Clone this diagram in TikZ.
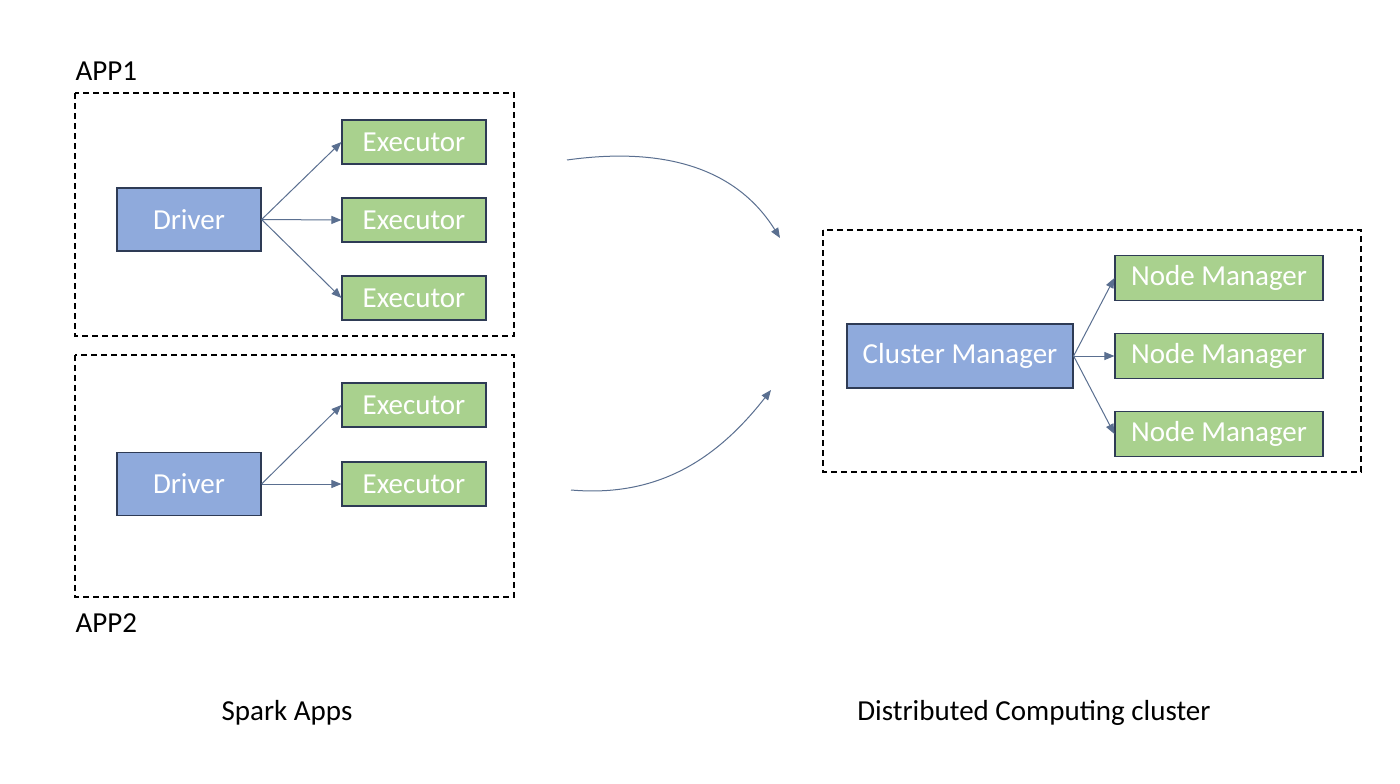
\documentclass[tikz,border=0pt]{standalone}
\usepackage{fontspec}
\setmainfont{Carlito}
\usetikzlibrary{arrows.meta}
\definecolor{drvblue}{HTML}{8FAADC}
\definecolor{exgreen}{HTML}{A9D18E}
\definecolor{boxline}{HTML}{2E3B55}
\definecolor{arrline}{HTML}{5A6F90}
\tikzset{
  txt/.style={font=\fontsize{29}{35}\selectfont},
  master/.style={txt,draw=boxline,line width=1.2pt,fill=drvblue,text=white,minimum width=144pt,minimum height=63pt,inner sep=0pt},
  worker/.style={txt,draw=boxline,line width=1.2pt,fill=exgreen,text=white,minimum width=144pt,minimum height=44pt,inner sep=0pt},
  appbox/.style={draw=black,line width=1.3pt,dash pattern=on 6pt off 4pt},
  link/.style={draw=arrline,line width=1pt,-{Triangle[length=10pt,width=8pt]}}
}
\begin{document}
\begin{tikzpicture}[x=1pt,y=-1pt]
	  \useasboundingbox[fill=white] (0,0) rectangle (1400,784);
	  % the two applications
	  \draw[appbox] (75,93) rectangle (514,336);
	  \draw[appbox] (75,355) rectangle (514,597);
	  \node[txt,anchor=west] (app1) at (72,71) {APP1};
	  \node[txt,anchor=west] (app2) at (72,623) {APP2};
	  \node[master] (drv1) at (189,219.5) {Driver};
	  \node[master] (drv2) at (189,484) {Driver};
	  \foreach \i/\y in {1/142,2/220,3/298} {
	    \node[worker] (ex1\i) at (414,\y) {Executor};
	    \draw[link] (drv1.east) -- (ex1\i.west);
	  }
	  \foreach \i/\y in {1/405,2/484} {
	    \node[worker] (ex2\i) at (414,\y) {Executor};
	    \draw[link] (drv2.east) -- (ex2\i.west);
	  }
	  % the cluster
	  \draw[appbox] (823,230) rectangle (1361,472);
	  \node[master,minimum width=226pt,minimum height=64pt] (cm) at (960,356) {Cluster Manager};
	  \foreach \i/\y in {1/278,2/356,3/434} {
	    \node[worker,minimum width=208pt,minimum height=45pt] (nm\i) at (1219,\y) {Node Manager};
	    \draw[link] (cm.east) -- (nm\i.west);
	  }
	  % requests
	  \coordinate (s1) at (567,160);
	  \coordinate (t1) at (780,238);
	  \coordinate (s2) at (571,490);
	  \coordinate (t2) at (771,390);
	  \draw[link] (s1) to[out=8,in=122] (t1);
	  \draw[link] (s2) to[out=-5,in=-128] (t2);
	  \node[txt] (spark) at (287,713) {Spark Apps};
	  \node[txt] (dcc) at (1034,713) {Distributed Computing cluster};
	\end{tikzpicture}
\end{document}
